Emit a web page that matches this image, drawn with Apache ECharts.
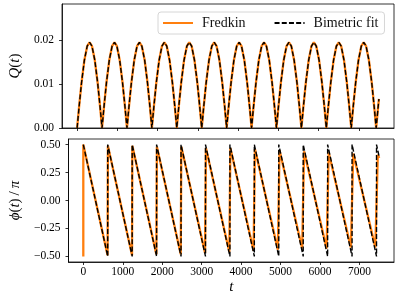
<!DOCTYPE html>
<html><head><meta charset="utf-8">
<script src="https://cdn.jsdelivr.net/npm/echarts@6/dist/echarts.min.js"></script>
<style>html,body{margin:0;padding:0;background:#fff}#c{width:399px;height:299px}</style>
</head><body><div id="c"></div>
<script>
// ---- tick values ----
const xTicks = [0, 1000, 2000, 3000, 4000, 5000, 6000, 7000];
const qTicks = [0, 0.01, 0.02];
const phiTicks = [-0.5, -0.25, 0, 0.25, 0.5];

// ---- Q(t): times and values ----
const qTime = [
  0,50,110,180,250,310,370,440,510,570,
  619,669,729,799,869,929,989,1059,1129,1189,
  1239,1289,1349,1419,1489,1549,1609,1679,1749,1809,
  1858,1908,1968,2038,2108,2168,2228,2298,2368,2428,
  2477,2527,2587,2657,2727,2787,2847,2917,2987,3047,
  3097,3147,3207,3277,3347,3407,3467,3537,3607,3667,
  3716,3766,3826,3896,3966,4026,4086,4156,4226,4286,
  4335,4385,4445,4515,4585,4645,4705,4775,4845,4905,
  4954,5004,5064,5134,5204,5264,5324,5394,5464,5524,
  5574,5624,5684,5754,5824,5884,5944,6014,6084,6144,
  6193,6243,6303,6373,6443,6503,6563,6633,6703,6763,
  6812,6862,6922,6992,7062,7122,7182,7252,7322,7382,
  7432,7482,7500
];
const qFredkin = [
  0,0.0049,0.0103,0.0154,0.0186,0.0195,0.0186,0.0154,0.0103,0.0049,
  0,0.0049,0.0103,0.0154,0.0186,0.0195,0.0186,0.0154,0.0103,0.0049,
  0,0.0049,0.0103,0.0154,0.0186,0.0195,0.0186,0.0154,0.0103,0.0049,
  0,0.0049,0.0103,0.0154,0.0186,0.0195,0.0186,0.0154,0.0103,0.0049,
  0,0.0049,0.0103,0.0154,0.0186,0.0195,0.0186,0.0154,0.0103,0.0049,
  0,0.0049,0.0103,0.0154,0.0186,0.0195,0.0186,0.0154,0.0103,0.0049,
  0,0.0049,0.0103,0.0154,0.0186,0.0195,0.0186,0.0154,0.0103,0.0049,
  0,0.0049,0.0103,0.0154,0.0186,0.0195,0.0186,0.0154,0.0103,0.0049,
  0,0.0049,0.0103,0.0154,0.0186,0.0195,0.0186,0.0154,0.0103,0.0049,
  0,0.0049,0.0103,0.0154,0.0186,0.0195,0.0186,0.0154,0.0103,0.0049,
  0,0.0049,0.0103,0.0154,0.0186,0.0195,0.0186,0.0154,0.0103,0.0049,
  0,0.0049,0.0103,0.0154,0.0186,0.0195,0.0186,0.0154,0.0103,0.0049,
  0,0.0049,0.0066
];
const qFit = [
  0,0.0049,0.0103,0.0154,0.0186,0.0195,0.0186,0.0154,0.0103,0.0049,
  0,0.0049,0.0103,0.0154,0.0186,0.0195,0.0186,0.0154,0.0103,0.0049,
  0,0.0049,0.0103,0.0154,0.0186,0.0195,0.0186,0.0154,0.0103,0.0049,
  0,0.0049,0.0103,0.0154,0.0186,0.0195,0.0186,0.0154,0.0103,0.0049,
  0,0.0049,0.0103,0.0154,0.0186,0.0195,0.0186,0.0154,0.0103,0.0049,
  0,0.0049,0.0103,0.0154,0.0186,0.0195,0.0186,0.0154,0.0103,0.0049,
  0,0.0049,0.0103,0.0154,0.0186,0.0195,0.0186,0.0154,0.0103,0.0049,
  0,0.0049,0.0103,0.0154,0.0186,0.0195,0.0186,0.0154,0.0103,0.0049,
  0,0.0049,0.0103,0.0154,0.0186,0.0195,0.0186,0.0154,0.0103,0.0049,
  0,0.0049,0.0103,0.0154,0.0186,0.0195,0.0186,0.0154,0.0103,0.0049,
  0,0.0049,0.0103,0.0154,0.0186,0.0195,0.0186,0.0154,0.0103,0.0049,
  0,0.0049,0.0103,0.0154,0.0186,0.0195,0.0186,0.0154,0.0103,0.0049,
  0,0.0049,0.0066
];

// ---- phi(t)/pi ----
const phiFredkinTime = [0,0, 615,623, 1235,1243, 1851,1865, 2470,2484, 3086,3108,
  3701,3727, 4316,4350, 4932,4973, 5548,5596, 6167,6219, 6782,6842, 7402,7465, 7500];
const phiFredkin = [-0.50,0.50, -0.49,0.49, -0.49,0.49, -0.48,0.48, -0.48,0.48, -0.47,0.47,
  -0.46,0.47, -0.45,0.46, -0.44,0.45, -0.43,0.44, -0.43,0.43, -0.42,0.42, -0.42,0.41, 0.38];
const phiFitTime = [0, 619,619, 1239,1239, 1858,1858, 2477,2477, 3097,3097, 3716,3716,
  4335,4335, 4954,4954, 5574,5574, 6193,6193, 6812,6812, 7432,7432, 7500];
const phiFit = [0.50, -0.50,0.50, -0.50,0.50, -0.50,0.50, -0.50,0.50, -0.50,0.50, -0.50,0.50,
  -0.50,0.50, -0.50,0.50, -0.50,0.50, -0.50,0.50, -0.50,0.50, -0.50,0.50, 0.39];

const pairs = (xs, ys) => xs.map((x, i) => [x, ys[i]]);

const SERIF = "'Liberation Serif', 'DejaVu Serif', serif";
const ORANGE = '#ff7f0e';
const axisCommon = {
  axisLine: { show: true, onZero: false, lineStyle: { color: '#000', width: 0.8 } },
  axisTick: { show: true, inside: false, length: 3, lineStyle: { color: '#000', width: 0.8 } },
  splitLine: { show: false }
};
const lbl = { fontFamily: SERIF, fontSize: 11.5, color: '#000' };
const fmt = v => (v < 0 ? '\u2212' : '') + Math.abs(v).toFixed(2);

const chart = echarts.init(document.getElementById('c'), null, { renderer: 'canvas' });
chart.setOption({
  animation: false,
  backgroundColor: '#fff',
  grid: [
    { left: 52, right: 5, top: 4, height: 124, show: true, borderColor: '#000', borderWidth: 0.8, backgroundColor: 'transparent' },
    { left: 52, right: 5, top: 139, height: 123, show: true, borderColor: '#000', borderWidth: 0.8, backgroundColor: 'transparent' }
  ],
  legend: {
    left: 158, top: 12, orient: 'horizontal',
    itemWidth: 30, itemHeight: 14, itemGap: 28,
    padding: [4, 6, 4, 4],
    backgroundColor: '#fff', borderColor: '#d6d6d6', borderWidth: 1, borderRadius: 3,
    itemStyle: { opacity: 0 },
    textStyle: { fontFamily: SERIF, fontSize: 14, color: '#111', padding: [0, 0, 0, 4] },
    data: ['Fredkin', 'Bimetric fit']
  },
  xAxis: [
    Object.assign({}, axisCommon, {
      type: 'value', gridIndex: 0, min: -375, max: 7875,
      axisTick: Object.assign({}, axisCommon.axisTick, { customValues: xTicks }),
      axisLabel: { show: false, customValues: xTicks }
    }),
    Object.assign({}, axisCommon, {
      type: 'value', gridIndex: 1, min: -375, max: 7875,
      axisTick: Object.assign({}, axisCommon.axisTick, { customValues: xTicks }),
      axisLabel: Object.assign({}, lbl, { margin: 4, customValues: xTicks, formatter: v => String(v) }),
      name: 't', nameLocation: 'middle', nameGap: 18,
      nameTextStyle: { fontFamily: SERIF, fontSize: 15, fontStyle: 'italic', color: '#000' }
    })
  ],
  yAxis: [
    Object.assign({}, axisCommon, {
      type: 'value', gridIndex: 0, min: 0, max: 0.0282,
      axisTick: Object.assign({}, axisCommon.axisTick, { customValues: qTicks }),
      axisLabel: Object.assign({}, lbl, { margin: 8, customValues: qTicks, formatter: fmt }),
      name: '{i|Q}{n|(}{i|t}{n|)}', nameLocation: 'middle', nameGap: 29, nameRotate: 90,
      nameTextStyle: {
        fontFamily: SERIF, fontSize: 15, color: '#000',
        rich: {
          i: { fontFamily: SERIF, fontSize: 15, fontStyle: 'italic', color: '#000' },
          n: { fontFamily: SERIF, fontSize: 15, color: '#000' }
        }
      }
    }),
    Object.assign({}, axisCommon, {
      type: 'value', gridIndex: 1, min: -0.55, max: 0.55,
      axisTick: Object.assign({}, axisCommon.axisTick, { customValues: phiTicks }),
      axisLabel: Object.assign({}, lbl, { margin: 8, customValues: phiTicks, formatter: fmt }),
      name: '{i|\u03d5}{n|(}{i|t}{n|)\u2009/\u2009}{i|\u03c0}', nameLocation: 'middle', nameGap: 35, nameRotate: 90,
      nameTextStyle: {
        fontFamily: SERIF, fontSize: 15, color: '#000',
        rich: {
          i: { fontFamily: SERIF, fontSize: 15, fontStyle: 'italic', color: '#000' },
          n: { fontFamily: SERIF, fontSize: 15, color: '#000' }
        }
      }
    })
  ],
  series: [
    { name: 'Fredkin', type: 'line', xAxisIndex: 0, yAxisIndex: 0, data: pairs(qTime, qFredkin),
      symbol: 'none', lineStyle: { color: ORANGE, width: 2.3 }, itemStyle: { color: ORANGE } },
    { name: 'Bimetric fit', type: 'line', xAxisIndex: 0, yAxisIndex: 0, data: pairs(qTime, qFit),
      symbol: 'none', lineStyle: { color: '#000', width: 1.4, type: [5, 2.2] }, itemStyle: { color: '#000' } },
    { name: 'Fredkin', type: 'line', xAxisIndex: 1, yAxisIndex: 1, data: pairs(phiFredkinTime, phiFredkin),
      symbol: 'none', lineStyle: { color: ORANGE, width: 2.3 }, itemStyle: { color: ORANGE } },
    { name: 'Bimetric fit', type: 'line', xAxisIndex: 1, yAxisIndex: 1, data: pairs(phiFitTime, phiFit),
      symbol: 'none', lineStyle: { color: '#000', width: 1.4, type: [5, 2.2] }, itemStyle: { color: '#000' } }
  ]
});
</script>
</body></html>
